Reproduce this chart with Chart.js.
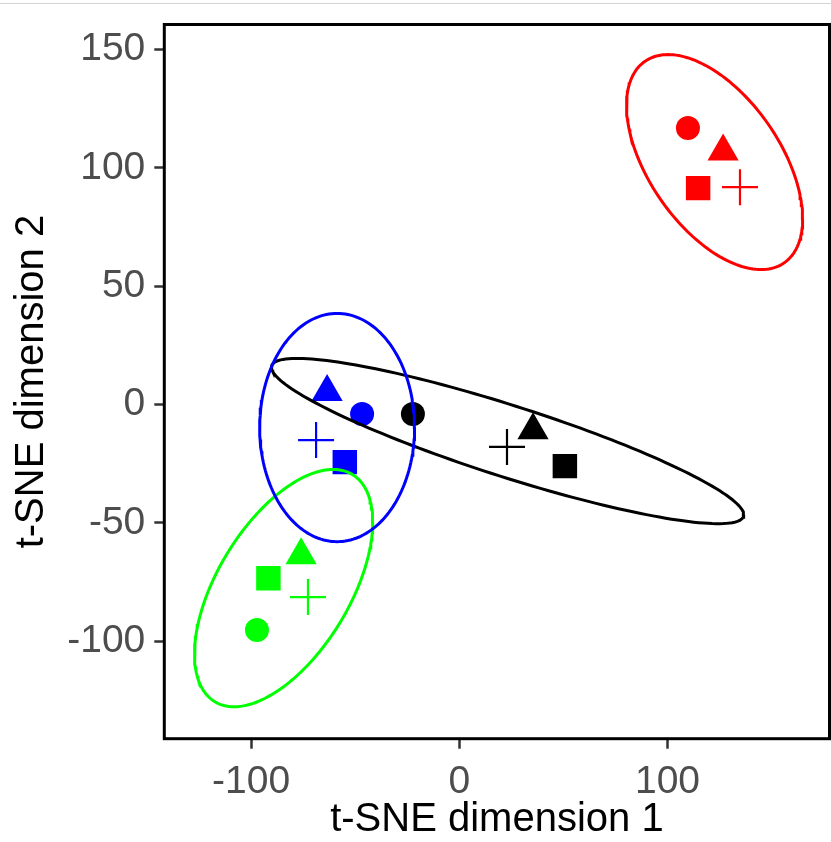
<!DOCTYPE html>
<html>
<head>
<meta charset="utf-8">
<script src="https://cdn.jsdelivr.net/npm/chart.js@4.4.1/dist/chart.umd.min.js"></script>
<style>
  html, body { margin: 0; padding: 0; background: #fff; overflow: hidden; }
  #wrap { position: relative; width: 831px; height: 842px; }
  #wrap canvas { display: block; }
  #topline { position: absolute; left: 0; top: 3px; width: 831px; height: 1px; background: #d4d4d4; }
</style>
</head>
<body>
<div id="wrap">
  <div id="topline"></div>
  <canvas id="tsne" width="831" height="842"></canvas>
</div>
<script>
// condicoes (forma do ponto), na mesma ordem dos valores de cada grupo
const conditionShapes = ['circle', 'triangle', 'rect', 'cross'];

// grupos: vermelho, azul, preto, verde
const groupColors = ['#ff0000', '#0000ff', '#000000', '#00ff00'];

const redX = [109.8, 126.7, 114.7, 134.8];
const redY = [116.8, 106.9, 91.4, 91.8];
const blueX = [-46.7, -63.5, -55.0, -68.8];
const blueY = [-4.0, 5.3, -24.3, -15.0];
const blackX = [-22.3, 35.4, 50.7, 22.9];
const blackY = [-4.0, -10.8, -26.0, -17.9];
const greenX = [-97.2, -76.0, -91.7, -72.7];
const greenY = [-95.2, -63.6, -73.3, -81.3];

// elipses (centro, meia largura, meia altura, deslocamento x do ponto mais alto)
const ellipseCx = [122.6, -58.7, 23.2, -84.4];
const ellipseCy = [102.4, -9.7, -15.4, -77.5];
const ellipseHalfW = [42.3, 37.2, 113.4, 42.8];
const ellipseHalfH = [45.4, 48.2, 34.9, 50.1];
const ellipseTopDx = [-22.3, 0, -101.1, 23.8];

const xTicks = [-100, 0, 100];
const yTicks = [-100, -50, 0, 50, 100, 150];

const groupXs = [redX, blueX, blackX, greenX];
const groupYs = [redY, blueY, blackY, greenY];

function ellipseOutline(i) {
    const hw = ellipseHalfW[i], hh = ellipseHalfH[i];
    const l21 = ellipseTopDx[i] * hh / hw;
    const l22 = Math.sqrt(hh * hh - l21 * l21);
    const pts = [];
    for (let k = 0; k <= 180; k++) {
        const t = k / 180 * 2 * Math.PI;
        pts.push({
            x: ellipseCx[i] + hw * Math.cos(t),
            y: ellipseCy[i] + l21 * Math.cos(t) + l22 * Math.sin(t)
        });
    }
    return pts;
}

const datasets = [];
groupColors.forEach((color, i) => {
    datasets.push({
        data: ellipseOutline(i),
        showLine: true,
        borderColor: color,
        borderWidth: 3,
        pointRadius: 0,
        fill: false,
        tension: 0,
        order: 0
    });
    datasets.push({
        data: groupXs[i].map((x, j) => ({ x: x, y: groupYs[i][j] })),
        showLine: false,
        pointStyle: conditionShapes,
        pointRadius: [12, 18, 17.3, 18],
        pointBorderWidth: [0, 0, 0, 2.2],
        pointBackgroundColor: color,
        pointBorderColor: color,
        order: 1
    });
});

const framePlugin = {
    id: 'frame',
    afterDatasetsDraw(chart) {
        const { ctx, chartArea: a } = chart;
        ctx.save();
        ctx.strokeStyle = '#000';
        ctx.lineWidth = 3;
        ctx.strokeRect(a.left, a.top, a.right - a.left, a.bottom - a.top);
        ctx.restore();
    }
};

const fontFamily = '"Liberation Sans", Arial, sans-serif';

new Chart(document.getElementById('tsne'), {
    type: 'scatter',
    data: { datasets: datasets },
    options: {
        responsive: false,
        animation: false,
        events: [],
        layout: { autoPadding: false, padding: { top: 24.5, right: 1.5, left: 0, bottom: 0 } },
        plugins: { legend: { display: false }, tooltip: { enabled: false } },
        scales: {
            x: {
                type: 'linear',
                min: -141.7,
                max: 177.8,
                afterFit: s => { s.height = 103.3; s.paddingLeft = 0; s.paddingRight = 0; },
                afterBuildTicks: s => { s.ticks = xTicks.map(v => ({ value: v })); },
                border: { display: false },
                grid: { drawOnChartArea: false, drawTicks: true, tickLength: 10, tickWidth: 2.5, tickColor: '#333' },
                ticks: {
                    color: '#4d4d4d',
                    padding: 10,
                    maxRotation: 0,
                    font: { family: fontFamily, size: 39 },
                    callback: v => String(v)
                },
                title: {
                    display: true,
                    text: 't-SNE dimension 1',
                    color: '#000',
                    padding: { top: 0, bottom: 2 },
                    font: { family: fontFamily, size: 40, lineHeight: 1 }
                }
            },
            y: {
                type: 'linear',
                min: -141.1,
                max: 160.5,
                afterFit: s => { s.width = 164.3; s.paddingTop = 0; s.paddingBottom = 0; },
                afterBuildTicks: s => { s.ticks = yTicks.map(v => ({ value: v })); },
                border: { display: false },
                grid: { drawOnChartArea: false, drawTicks: true, tickLength: 10, tickWidth: 2.5, tickColor: '#333' },
                ticks: {
                    color: '#4d4d4d',
                    padding: 9,
                    font: { family: fontFamily, size: 39 },
                    callback: v => String(v)
                },
                title: {
                    display: true,
                    text: 't-SNE dimension 2',
                    color: '#000',
                    padding: { top: 12, bottom: 0 },
                    font: { family: fontFamily, size: 40, lineHeight: 1 }
                }
            }
        }
    },
    plugins: [framePlugin]
});
</script>
</body>
</html>
